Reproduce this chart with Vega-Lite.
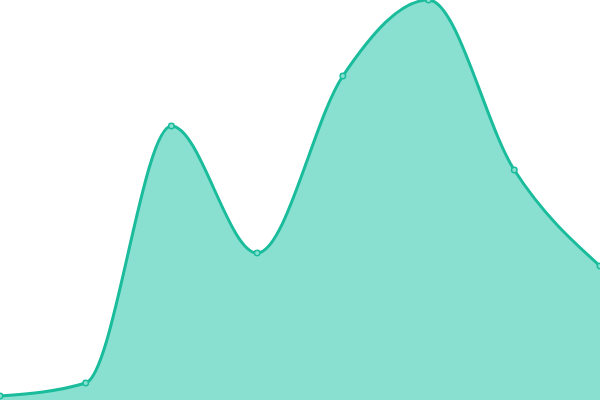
{
  "$schema": "https://vega.github.io/schema/vega-lite/v6.json",
  "width": 600,
  "height": 400,
  "autosize": "none",
  "padding": 0,
  "background": "white",
  "config": {"view": {"stroke": null}},
  "data": {"values": [
    {"i": 0, "v": 4},
    {"i": 1, "v": 17},
    {"i": 2, "v": 274},
    {"i": 3, "v": 147},
    {"i": 4, "v": 324},
    {"i": 5, "v": 400},
    {"i": 6, "v": 230},
    {"i": 7, "v": 134}
  ]},
  "encoding": {
    "x": {"field": "i", "type": "quantitative", "scale": {"domain": [0, 7], "nice": false}, "axis": null},
    "y": {"field": "v", "type": "quantitative", "scale": {"domain": [0, 400], "nice": false}, "axis": null}
  },
  "layer": [
    {"mark": {"type": "area", "interpolate": "monotone", "color": "#89e0d0", "opacity": 1}},
    {"mark": {"type": "line", "interpolate": "monotone", "color": "#1abc9c", "strokeWidth": 3}},
    {"mark": {"type": "point", "filled": true, "fill": "#89e0d0", "stroke": "#1abc9c", "strokeWidth": 1.5, "size": 30, "opacity": 1}}
  ]
}
